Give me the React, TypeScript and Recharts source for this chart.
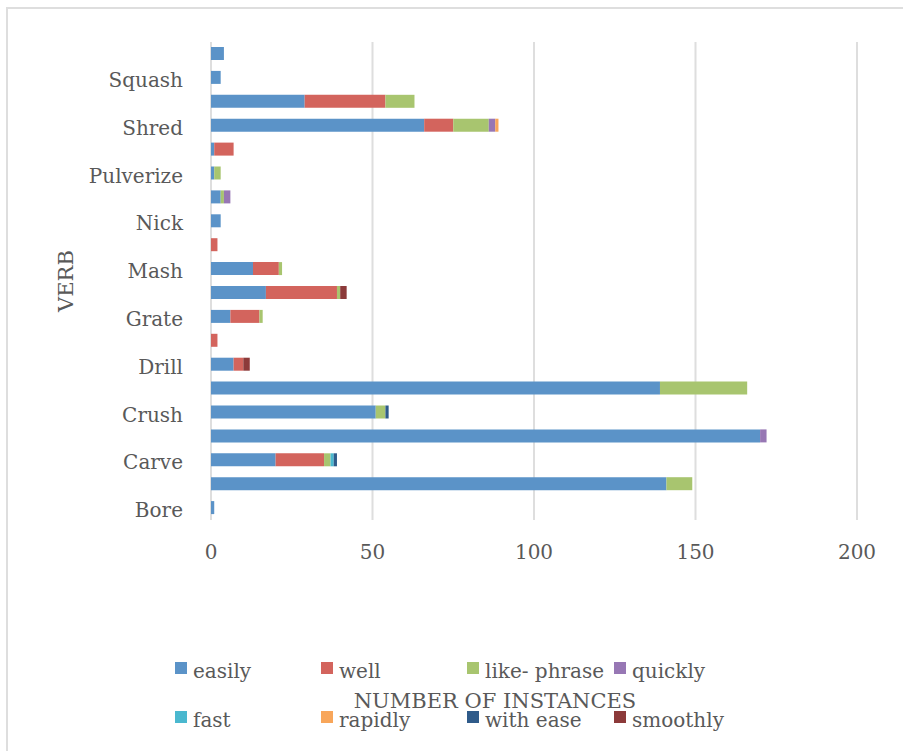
import React from "react";
import { BarChart, Bar, XAxis, YAxis, CartesianGrid } from "recharts";

// Verbs listed bottom-up; only every other one gets a tick label.
const verbs = [
  "Bore", "Break", "Carve", "Chop", "Crush", "Cut", "Drill", "File", "Grate", "Grind",
  "Mash", "Mince", "Nick", "Pound", "Pulverize", "Saw", "Shred", "Slice", "Squash", "Whittle",
];

const easily = [1, 141, 20, 170, 51, 139, 7, 0, 6, 17, 13, 0, 3, 3, 1, 1, 66, 29, 3, 4];
const well = [0, 0, 15, 0, 0, 0, 3, 2, 9, 22, 8, 2, 0, 0, 0, 6, 9, 25, 0, 0];
const likePhrase = [0, 8, 2, 0, 3, 27, 0, 0, 1, 1, 1, 0, 0, 1, 2, 0, 11, 9, 0, 0];
const quickly = [0, 0, 0, 2, 0, 0, 0, 0, 0, 0, 0, 0, 0, 2, 0, 0, 2, 0, 0, 0];
const fast = [0, 0, 1, 0, 0, 0, 0, 0, 0, 0, 0, 0, 0, 0, 0, 0, 0, 0, 0, 0];
const rapidly = [0, 0, 0, 0, 0, 0, 0, 0, 0, 0, 0, 0, 0, 0, 0, 0, 1, 0, 0, 0];
const withEase = [0, 0, 1, 0, 1, 0, 0, 0, 0, 0, 0, 0, 0, 0, 0, 0, 0, 0, 0, 0];
const smoothly = [0, 0, 0, 0, 0, 0, 2, 0, 0, 2, 0, 0, 0, 0, 0, 0, 0, 0, 0, 0];

const xTicks = [0, 50, 100, 150, 200];

const series = [
  { key: "easily", name: "easily", color: "#5b93c8", values: easily },
  { key: "well", name: "well", color: "#d3645d", values: well },
  { key: "likePhrase", name: "like- phrase", color: "#a8c56f", values: likePhrase },
  { key: "quickly", name: "quickly", color: "#9777b4", values: quickly },
  { key: "fast", name: "fast", color: "#4ab8cf", values: fast },
  { key: "rapidly", name: "rapidly", color: "#f8a65a", values: rapidly },
  { key: "withEase", name: "with ease", color: "#2f5b8a", values: withEase },
  { key: "smoothly", name: "smoothly", color: "#8c3a3a", values: smoothly },
];

const data = verbs.map((verb, i) => {
  const row: Record<string, string | number> = { verb };
  series.forEach((s) => {
    row[s.key] = s.values[i];
  });
  return row;
});

const FONT = "'DejaVu Serif', serif";
const TEXT = "#595959";
const GRID = "#dedede";

// legend swatch columns / rows
const legendCols = [175, 321, 467, 614];
const legendRows = [662, 711];

export default function App() {
  return (
    <div
      style={{
        position: "absolute",
        left: 0,
        top: 0,
        width: 903,
        height: 751,
        overflow: "hidden",
        background: "#fff",
        fontFamily: FONT,
      }}
    >
      <div
        style={{
          position: "absolute",
          left: 6,
          top: 7,
          width: 960,
          height: 800,
          border: `2px solid ${GRID}`,
        }}
      />
      <div style={{ position: "absolute", left: 0, top: 0 }}>
        <BarChart
          width={903}
          height={751}
          data={data}
          layout="vertical"
          margin={{ top: 42, right: 46, bottom: 191, left: 0 }}
          barSize={13}
        >
          <CartesianGrid horizontal={false} stroke={GRID} strokeWidth={2} />
          <XAxis
            type="number"
            domain={[0, 200]}
            ticks={xTicks}
            axisLine={false}
            tickLine={false}
            tickSize={0}
            tickMargin={25}
            height={40}
            tick={{ fill: TEXT, fontSize: 20, fontFamily: FONT }}
          />
          <YAxis
            type="category"
            dataKey="verb"
            reversed
            interval={0}
            width={211}
            axisLine={false}
            tickLine={false}
            tickSize={0}
            tickMargin={28}
            tickFormatter={(v: string) => (verbs.indexOf(v) % 2 === 0 ? v : "")}
            tick={{ fill: TEXT, fontSize: 20, fontFamily: FONT, dy: 2 }}
          />
          {series.map((s) => (
            <Bar
              key={s.key}
              dataKey={s.key}
              name={s.name}
              stackId="a"
              fill={s.color}
              isAnimationActive={false}
            />
          ))}
        </BarChart>
      </div>
      <svg
        width={903}
        height={751}
        style={{ position: "absolute", left: 0, top: 0, pointerEvents: "none" }}
      >
        <text
          x={73}
          y={281}
          textAnchor="middle"
          transform="rotate(-90 73 281)"
          fill={TEXT}
          fontSize={21}
          fontFamily={FONT}
        >
          VERB
        </text>
        {series.map((s, i) => {
          const x = legendCols[i % 4];
          const y = legendRows[Math.floor(i / 4)];
          return (
            <g key={s.key}>
              <rect x={x} y={y} width={12} height={12} fill={s.color} />
              <text x={x + 18} y={y + 16} fill={TEXT} fontSize={20} fontFamily={FONT}>
                {s.name}
              </text>
            </g>
          );
        })}
        <text x={495} y={708} textAnchor="middle" fill={TEXT} fontSize={21} fontFamily={FONT}>
          NUMBER OF INSTANCES
        </text>
      </svg>
    </div>
  );
}
